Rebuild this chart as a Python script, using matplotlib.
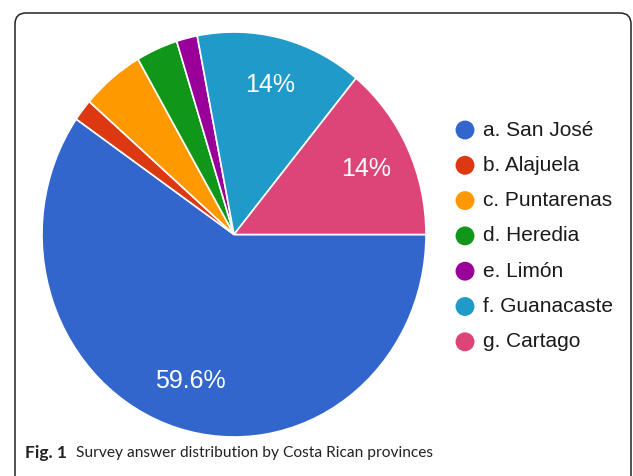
import matplotlib
matplotlib.use("Agg")
import matplotlib.pyplot as plt
from matplotlib.patches import FancyBboxPatch

categories = ["a. San José", "b. Alajuela", "c. Puntarenas", "d. Heredia",
              "e. Limón", "f. Guanacaste", "g. Cartago"]
counts = [34, 1, 3, 2, 1, 8, 8]
colors = ["#3366CC", "#DC3912", "#FF9900", "#109618", "#990099", "#1F9AC9", "#DD4477"]
caption_bold = "Fig. 1"
caption_text = "Survey answer distribution by Costa Rican provinces"

cap_font = "Lato"

W, H = 633, 476
fig = plt.figure(figsize=(W / 100, H / 100), dpi=100)
fig.patch.set_facecolor("white")

ov = fig.add_axes([0, 0, 1, 1])
ov.set_xlim(0, W)
ov.set_ylim(H, 0)
ov.axis("off")

border = FancyBboxPatch((15, 13), 616, 500, boxstyle="round,pad=0,rounding_size=11",
                        fill=False, edgecolor="#222222", linewidth=1.1, clip_on=False)
ov.add_patch(border)

px0, px1, py0, py1 = 42, 426, 32, 437
ax = fig.add_axes([px0 / W, 1 - py1 / H, (px1 - px0) / W, (py1 - py0) / H])


def fmt(p):
    if p < 10:
        return ""
    s = f"{p:.1f}"
    if s.endswith(".0"):
        s = s[:-2]
    return s + "%"


wedges, texts, autotexts = ax.pie(counts, colors=colors, startangle=0, counterclock=False,
                                  autopct=fmt, pctdistance=0.76,
                                  wedgeprops=dict(edgecolor="white", linewidth=1.2),
                                  textprops=dict(color="white", fontsize=18,
                                                 family="Liberation Sans"))
ax.set_aspect("auto")
ax.set_xlim(-1, 1)
ax.set_ylim(-1, 1)
ax.axis("off")

ly0, ldy = 130, 35.3
for i, (cat, col) in enumerate(zip(categories, colors)):
    y = ly0 + i * ldy
    ov.scatter([465], [y], s=185, color=col, edgecolors="none", zorder=3)
    ov.text(483, y, cat, fontsize=15, family="Liberation Sans", color="#1a1a1a",
            va="center", ha="left")

fig.canvas.draw()
fs = 14.5
t1 = ov.text(25, 453, caption_bold, fontsize=fs, fontweight="bold", family=cap_font,
             color="#222222", va="center", ha="left")
fig.canvas.draw()
bb = t1.get_window_extent()
t2 = ov.text(bb.x1 + 9, 453, caption_text, fontsize=fs, family=cap_font,
             color="#222222", va="center", ha="left")
fig.canvas.draw()
target = 440 - (bb.x1 + 9)
w2 = t2.get_window_extent().width
if w2 > target * 1.03:
    f = fs * target / w2
    t1.set_fontsize(max(f, 12.5))
    fig.canvas.draw()
    bb = t1.get_window_extent()
    t2.set_x(bb.x1 + 9)
    t2.set_fontsize(f)

fig.savefig("out.png", dpi=100)
